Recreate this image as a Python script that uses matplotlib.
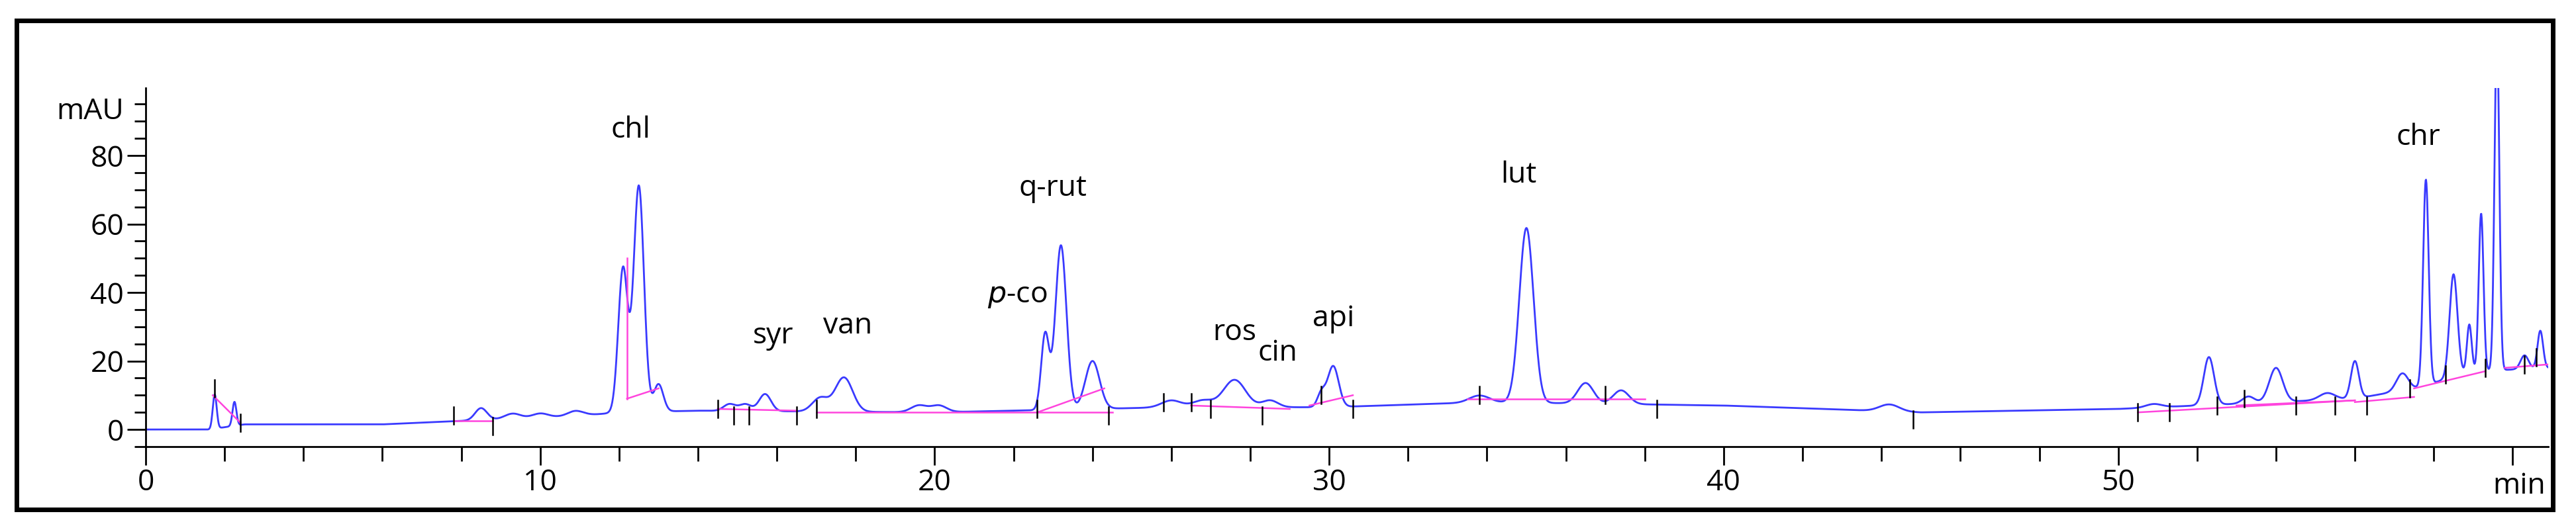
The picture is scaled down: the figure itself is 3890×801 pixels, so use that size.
import matplotlib.pyplot as plt
import numpy as np
from matplotlib.patches import Rectangle

# peak table: retention time (min), height (mAU), width (min)
peak_time = [1.75, 2.25, 8.5, 9.3, 10.0, 10.9, 12.1, 12.5, 13.0, 14.8, 15.2, 15.7,
             17.1, 17.7, 19.6, 20.1, 22.8, 23.2, 24.0, 26.0, 26.8, 27.6, 28.5, 29.8,
             30.1, 33.8, 35.0, 36.5, 37.4, 44.2, 50.9, 52.3, 53.3, 54.0, 55.3, 56.0,
             57.2, 57.8, 58.5, 58.9, 59.2, 59.6, 60.3, 60.7]
peak_height = [10, 7, 3.5, 1.5, 1.2, 1.5, 42, 66, 8, 2, 2, 5,
               4, 10, 2, 2, 22, 48, 14, 2, 2, 8, 2, 4,
               12, 2, 51, 6, 4, 2, 1, 14, 2, 10, 2, 11,
               5, 60, 30, 14, 46, 100, 4, 11]
peak_width = [0.05, 0.05, 0.15, 0.2, 0.2, 0.2, 0.12, 0.13, 0.12, 0.15, 0.15, 0.15,
              0.2, 0.22, 0.2, 0.2, 0.1, 0.14, 0.18, 0.25, 0.25, 0.28, 0.2, 0.1,
              0.14, 0.25, 0.18, 0.2, 0.2, 0.25, 0.2, 0.13, 0.15, 0.17, 0.2, 0.1,
              0.15, 0.07, 0.1, 0.06, 0.06, 0.06, 0.1, 0.07]

# drifting baseline knots (min, mAU)
base_t = [0, 1.6, 2.5, 6, 8, 11, 12, 14, 20, 22, 26, 30, 34, 40, 45, 50, 56, 57.5, 59, 61]
base_y = [0, 0, 1.5, 1.5, 2.5, 4, 5, 5.5, 5, 5.5, 6.5, 6.5, 8, 7, 5, 6, 9, 12, 17, 18]

# integration baseline segments (magenta): t0, y0, t1, y1
seg_t0 = [1.7, 7.8, 12.2, 12.2, 14.5, 17.0, 22.6, 26.5, 29.5, 33.5, 50.5, 53.0, 56.0, 57.5, 59.8]
seg_y0 = [10, 2.5, 50, 9, 6, 5, 5, 7, 7, 9, 5, 7, 8, 12, 18]
seg_t1 = [2.4, 8.8, 12.2, 13.0, 16.5, 24.5, 24.3, 29.0, 30.6, 38.0, 56.0, 56.0, 57.5, 59.3, 60.9]
seg_y1 = [2, 2.5, 9, 12, 5.5, 5, 12, 6, 10, 9, 8.5, 8.5, 9.5, 17, 19]

# integration event marks
mark_t = [1.75, 2.4, 7.8, 8.8, 14.5, 14.9, 15.3, 16.5, 17.0, 22.6, 24.4, 25.8, 26.5,
          27.0, 28.3, 29.8, 30.6, 33.8, 37.0, 38.3, 44.8, 50.5, 51.3, 52.5, 53.2,
          54.5, 55.5, 56.3, 57.4, 58.3, 59.3, 60.3, 60.6]
mark_y = [12, 2, 4, 1, 6, 4, 4, 4, 6, 6, 4, 8, 8, 6, 4, 10, 6, 10, 10, 6, 3, 5, 5,
          7, 9, 7, 7, 7, 12, 16, 18, 19, 21]

labels = ["chl", "syr", "van", "$\\it{p}$-co", "q-rut", "ros", "cin", "api", "lut", "chr"]
label_t = [12.3, 15.9, 17.8, 22.1, 23.0, 27.6, 28.7, 30.1, 34.8, 57.6]
label_y = [83, 23, 26, 35, 66, 24, 18, 28, 70, 81]


def main():
    plt.rcParams["font.family"] = ["Open Sans", "DejaVu Sans"]
    fig = plt.figure(figsize=(38.91, 8.01), dpi=100)
    fig.add_artist(Rectangle((25 / 3891, 31 / 801), 3830 / 3891, 739 / 801,
                             transform=fig.transFigure, fill=False, lw=5, ec="black"))
    ax = fig.add_axes([220 / 3891, (801 - 675) / 801, (3848 - 220) / 3891, (675 - 133) / 801])

    t = np.linspace(0, 60.9, 6000)
    y = np.interp(t, base_t, base_y)
    for pt, ph, pw in zip(peak_time, peak_height, peak_width):
        y = y + ph * np.exp(-0.5 * ((t - pt) / pw) ** 2)
    ax.plot(t, y, color="#3a3aff", lw=2)

    for a, b, c, d in zip(seg_t0, seg_y0, seg_t1, seg_y1):
        ax.plot([a, c], [b, d], color="#ff44dd", lw=1.8)
    for mt, my in zip(mark_t, mark_y):
        ax.plot([mt, mt], [my - 2.5, my + 2.5], color="black", lw=1.8)

    for lab, lt, ly in zip(labels, label_t, label_y):
        ax.text(lt, ly, lab, fontsize=32, ha="center", va="bottom")

    ax.set_xlim(0, 60.9)
    ax.set_ylim(-5, 99.7)
    ax.spines["top"].set_visible(False)
    ax.spines["right"].set_visible(False)
    ax.spines["left"].set_linewidth(2)
    ax.spines["bottom"].set_linewidth(2)
    ax.set_xticks([0, 10, 20, 30, 40, 50, 60])
    ax.set_xticklabels(["0", "10", "20", "30", "40", "50", ""])
    ax.set_xticks(np.arange(2, 61, 2), minor=True)
    ax.set_yticks([0, 20, 40, 60, 80])
    ax.set_yticks(np.arange(-5, 100, 5), minor=True)
    ax.tick_params(axis="both", which="major", labelsize=32, length=20, width=2)
    ax.tick_params(axis="x", which="minor", length=16, width=2)
    ax.tick_params(axis="y", which="minor", length=12, width=2)
    ax.text(-0.009, 97, "mAU", transform=ax.get_yaxis_transform(), fontsize=32,
            ha="right", va="top")
    ax.text(0.999, -0.07, "min", transform=ax.transAxes, fontsize=32, ha="right", va="top")

    fig.savefig("out.png", dpi=100)


if __name__ == "__main__":
    main()
